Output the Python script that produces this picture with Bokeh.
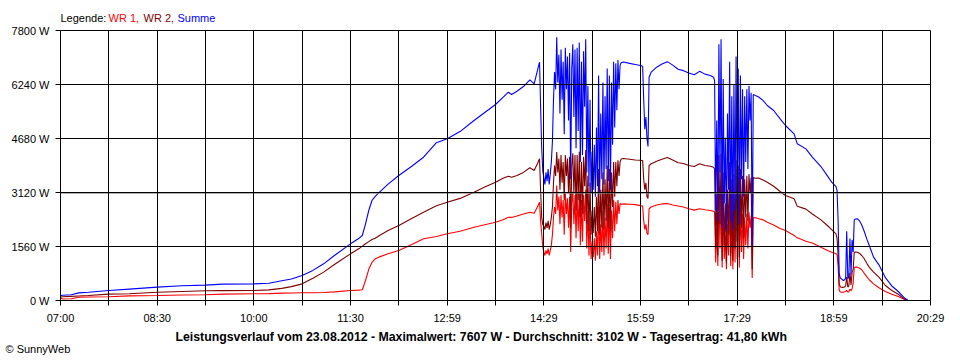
from bokeh.plotting import figure
from bokeh.layouts import column
from bokeh.models import Range1d, FixedTicker, Label, Span, Title
from bokeh.embed import file_html
from bokeh.resources import INLINE

# ---------------- data ----------------
TIME = [
    "07:00", "07:02", "07:10", "07:17", "07:26", "07:45", "08:04", "08:30", "08:53", "09:15",
    "09:31", "10:00", "10:14", "10:26", "10:35", "10:45", "10:55", "11:05", "11:15", "11:30",
    "11:38", "11:41", "11:44", "11:47", "11:50", "11:53", "11:57", "12:05", "12:15", "12:27",
    "12:38", "12:50", "13:00", "13:12", "13:25", "13:35", "13:45", "13:52", "13:57", "14:00",
    "14:05", "14:11", "14:17", "14:21", "14:24", "14:26", "14:27", "14:28",
    # cloudy period 1
    "14:29", "14:30", "14:31", "14:32", "14:33", "14:34", "14:35", "14:36", "14:37", "14:38",
    "14:39", "14:40", "14:41", "14:42", "14:43", "14:44", "14:45", "14:46", "14:47", "14:48",
    "14:49", "14:50", "14:51", "14:52", "14:53", "14:54", "14:55", "14:56", "14:57", "14:58",
    "14:59", "15:00", "15:01", "15:02", "15:03", "15:04", "15:05", "15:06", "15:07", "15:08",
    "15:09", "15:10", "15:11", "15:12", "15:13", "15:14", "15:15", "15:16", "15:17", "15:18",
    "15:19", "15:20", "15:21", "15:22", "15:23", "15:24", "15:25", "15:26", "15:27", "15:28",
    "15:29", "15:30", "15:31", "15:32", "15:33", "15:34", "15:35", "15:36", "15:37", "15:38",
    "15:39", "15:40", "15:41", "15:42",
    # afternoon
    "15:44", "15:50", "15:55", "16:00", "16:02", "16:03", "16:04", "16:05", "16:06", "16:07",
    "16:08", "16:10", "16:15", "16:20", "16:25", "16:30", "16:35", "16:40", "16:45", "16:50",
    "16:55", "17:00", "17:05", "17:08",
    # cloudy period 2
    "17:09", "17:10", "17:11", "17:12", "17:13", "17:14", "17:15", "17:16", "17:17", "17:18",
    "17:19", "17:20", "17:21", "17:22", "17:23", "17:24", "17:25", "17:26", "17:27", "17:28",
    "17:29", "17:30", "17:31", "17:32", "17:33", "17:34", "17:35", "17:36", "17:37", "17:38",
    "17:39", "17:40", "17:41", "17:42", "17:43", "17:44", "17:45",
    # evening
    "17:47", "17:50", "17:54", "17:58", "18:04", "18:10", "18:15", "18:23", "18:26", "18:34",
    "18:40", "18:48", "18:54", "18:58", "19:02", "19:03", "19:04", "19:05", "19:06", "19:07",
    "19:08", "19:09", "19:10", "19:11", "19:12", "19:13", "19:14", "19:15", "19:16", "19:17",
    "19:18", "19:19", "19:20", "19:22", "19:24", "19:26", "19:28", "19:31", "19:33", "19:37",
    "19:42", "19:48", "19:54", "20:00", "20:05", "20:09",
]

WR1 = [
    75, 45, 50, 95, 100, 110, 135, 144, 160, 164,
    183, 193, 200, 212, 218, 222, 226, 232, 250, 289,
    300, 310, 578, 900, 1100, 1204, 1260, 1350, 1444, 1620,
    1782, 1850, 1926, 2000, 2118, 2190, 2263, 2330, 2407, 2400,
    2440, 2500, 2552, 2520, 2700, 2841, 2300, 1940,
    1550, 1400, 1300, 1450, 1350, 1500, 1300, 1450, 1600, 1900,
    2400, 2700, 2500, 3320, 2600, 3000, 2200, 3050, 2400, 2900,
    1900, 3100, 2500, 2950, 2100, 3000, 1400, 2800, 3150, 2200,
    3050, 1800, 3100, 2000, 3150, 1600, 2900, 1700, 3050, 2300,
    3200, 1500, 2600, 1300, 2400, 1200, 1700, 1250, 1800, 1150,
    2000, 1300, 2700, 1200, 2200, 1400, 2600, 1300, 2400, 1500,
    2800, 1350, 2700, 1200, 2600, 1800, 2900, 2000, 2850, 2200,
    2900, 2500, 2800, 2780,
    2790, 2780, 2770, 2740, 2730, 2300, 2050, 2200, 1950, 1900,
    2650, 2700, 2760, 2790, 2800, 2760, 2730, 2700, 2650, 2610,
    2650, 2620, 2600, 2580,
    2550, 1100, 2100, 1000, 3200, 1500, 3300, 950, 2700, 1200,
    1900, 900, 2200, 1300, 2900, 1000, 2400, 900, 2600, 1100,
    3000, 1200, 2800, 950, 2700, 1400, 2500, 1200, 2400, 1600,
    2500, 1500, 2550, 2100, 2450, 650, 2400,
    2390, 2360, 2330, 2263, 2180, 2080, 2022, 1880, 1810, 1710,
    1660, 1541, 1444, 1396, 1348, 1330, 1000, 290, 250, 240,
    240, 240, 250, 260, 290, 245, 250, 330, 280, 340,
    500, 960, 965, 963, 930, 890, 800, 674, 600, 481,
    370, 260, 180, 115, 40, 0,
]

WR2 = [
    95, 110, 120, 130, 144, 183, 193, 240, 260, 280,
    285, 289, 308, 350, 400, 481, 640, 820, 1040, 1348,
    1500, 1570, 1640, 1700, 1760, 1800, 1880, 2020, 2167, 2370,
    2552, 2740, 2841, 2950, 3130, 3280, 3419, 3530, 3592, 3560,
    3611, 3700, 3833, 3756, 3950, 4093, 3180, 2410,
    2200, 2150, 2050, 2250, 2100, 2300, 2050, 2200, 2400, 2700,
    3400, 3900, 3600, 4287, 3700, 4100, 3200, 4200, 3400, 4000,
    2900, 4200, 3600, 4100, 3100, 4150, 2100, 3900, 4250, 3100,
    4200, 2600, 4200, 2900, 4300, 2400, 4000, 2500, 4150, 3300,
    4350, 2200, 3600, 2000, 3400, 1900, 2600, 1950, 2700, 1850,
    3000, 2000, 3800, 1900, 3200, 2100, 3700, 2050, 3500, 2300,
    3900, 2100, 3800, 2000, 3700, 2700, 4000, 3000, 4000, 3300,
    4050, 3600, 4000, 4090,
    4100, 4080, 4060, 4050, 4040, 3500, 3200, 3400, 3000, 2950,
    3900, 3950, 4020, 4080, 4130, 4060, 3980, 3960, 3900, 3870,
    3950, 3900, 3880, 3850,
    3800, 1500, 3100, 1300, 4200, 2200, 4250, 1150, 3700, 1600,
    2800, 1100, 3200, 1900, 4000, 1300, 3500, 1150, 3650, 1500,
    4050, 1700, 3900, 1250, 3800, 2100, 3600, 1800, 3500, 2400,
    3600, 2300, 3650, 3100, 3550, 900, 3550,
    3530, 3540, 3480, 3418, 3300, 3150, 3033, 2937, 2720, 2640,
    2500, 2330, 2167, 2050, 1926, 1800, 1300, 480, 400, 385,
    380, 385, 390, 420, 680, 390, 420, 800, 450, 820,
    900, 1390, 1400, 1396, 1360, 1300, 1220, 1059, 960, 818,
    674, 433, 289, 180, 60, 0,
]

SUMME = [
    140, 150, 165, 220, 240, 290, 330, 385, 424, 443,
    472, 481, 500, 570, 620, 722, 870, 1059, 1300, 1637,
    1800, 1878, 2215, 2600, 2889, 3010, 3130, 3360, 3611, 3880,
    4140, 4560, 4670, 4880, 5200, 5430, 5662, 5870, 6018, 5951,
    6047, 6182, 6375, 6259, 6644, 6885, 5600, 4430,
    3750, 3550, 3350, 3700, 3450, 3800, 3350, 3650, 4000, 4600,
    5800, 6600, 6100, 7607, 6300, 7100, 5400, 7250, 5800, 6900,
    4800, 7300, 6100, 7050, 5200, 7150, 3500, 6700, 7400, 5300,
    7250, 4400, 7300, 4900, 7450, 4000, 6900, 4200, 7200, 5600,
    7550, 3700, 6200, 3300, 5800, 3100, 4300, 3200, 4500, 3000,
    5000, 3300, 6500, 3100, 5400, 3500, 6300, 3350, 5900, 3800,
    6700, 3450, 6500, 3200, 6300, 4500, 6900, 5000, 6850, 5500,
    6950, 6100, 6800, 6870,
    6890, 6850, 6820, 6790, 6770, 5800, 4950, 5300, 4700, 4450,
    6450, 6600, 6740, 6830, 6900, 6800, 6680, 6640, 6570, 6520,
    6620, 6540, 6500, 6450,
    6350, 2600, 5200, 2300, 7400, 3700, 7550, 2100, 6400, 2800,
    4700, 2000, 5400, 3200, 6900, 2300, 5900, 2050, 6250, 2600,
    7050, 2900, 6700, 2200, 6500, 3500, 6100, 3000, 5900, 4000,
    6100, 3800, 6200, 5200, 6000, 1550, 5950,
    5920, 5880, 5780, 5633, 5490, 5248, 5056, 4815, 4526, 4380,
    4141, 3870, 3600, 3420, 3290, 3180, 2300, 770, 650, 626,
    600, 580, 600, 640, 2000, 620, 700, 1790, 750, 1750,
    1400, 2330, 2350, 2360, 2300, 2180, 2022, 1750, 1589, 1252,
    1030, 660, 420, 260, 96, 0,
]

assert len(TIME) == len(WR1) == len(WR2) == len(SUMME)

X_TICKS = ["07:00", "07:45", "08:30", "09:15", "10:00", "10:45", "11:30", "12:15",
           "13:00", "13:45", "14:30", "15:15", "16:00", "16:45", "17:30", "18:15",
           "19:00", "19:45", "20:30"]
X_TICK_LABELS = {"07:00": "07:00", "08:30": "08:30", "10:00": "10:00", "11:30": "11:30",
                 "13:00": "12:59", "14:30": "14:29", "16:00": "15:59", "17:30": "17:29",
                 "19:00": "18:59", "20:30": "20:29"}
Y_TICKS = [0, 1560, 3120, 4680, 6240, 7800]
AVERAGE_W = 3102
MAX_W = 7607
DATE = "23.08.2012"
ENERGY = "41,80 kWh"

SERIES = [("WR 1", WR1, "#FF0000"), ("WR 2", WR2, "#800000"), ("Summe", SUMME, "#0000FF")]


def to_min(s):
    h, m = s.split(":")
    return int(h) * 60 + int(m)


FONT = "Liberation Sans"
W = 960
LEFT, RIGHT = 60, 30

# ---------------- legend strip (frame aligned with the chart frame) ----------------
top = figure(width=W, height=24, output_backend="svg", toolbar_location=None,
             x_axis_type=None, y_axis_type=None, x_range=Range1d(0, 1), y_range=Range1d(0, 1),
             min_border_left=LEFT, min_border_right=RIGHT, min_border_top=0, min_border_bottom=0)
top.outline_line_color = None
top.grid.visible = False
top.background_fill_color = "white"
top.border_fill_color = "white"
legend_items = [("Legende:", "black", 0)] + [
    (n + ("," if i < len(SERIES) - 1 else ""), c, px)
    for i, ((n, v, c), px) in enumerate(zip(SERIES, [48, 83, 117]))]
for txt, col, px in legend_items:
    top.add_layout(Label(x=px, y=7, x_units="screen", y_units="screen", text=txt,
                         text_color=col, text_font=FONT, text_font_size="11px",
                         text_baseline="middle", text_align="left"))

# ---------------- main chart ----------------
x = [to_min(t) for t in TIME]
p = figure(width=W, height=336, output_backend="svg", toolbar_location=None,
           x_range=Range1d(to_min(X_TICKS[0]), to_min(X_TICKS[-1])),
           y_range=Range1d(Y_TICKS[0], Y_TICKS[-1]),
           min_border_left=LEFT, min_border_right=RIGHT, min_border_top=6, min_border_bottom=60)
p.background_fill_color = "white"
p.border_fill_color = "white"
p.outline_line_color = "black"
p.outline_line_width = 1

for name, vals, col in SERIES:
    p.line(x, vals, line_color=col, line_width=1.1)

p.add_layout(Span(location=AVERAGE_W, dimension="width", line_color="#808080", line_width=1))

p.xaxis.ticker = FixedTicker(ticks=[to_min(t) for t in X_TICKS])
p.xaxis.major_label_overrides = {to_min(t): X_TICK_LABELS.get(t, "") for t in X_TICKS}
p.yaxis.ticker = FixedTicker(ticks=Y_TICKS)
p.yaxis.major_label_overrides = {v: f"{v} W" for v in Y_TICKS}
for ax in (p.xaxis, p.yaxis):
    ax.axis_line_color = "black"
    ax.major_tick_line_color = "black"
    ax.major_tick_out = 5
    ax.major_tick_in = 0
    ax.minor_tick_line_color = None
    ax.major_label_text_font = FONT
    ax.major_label_text_font_size = "11px"
    ax.major_label_text_color = "black"
    ax.major_label_standoff = 6

p.grid.grid_line_color = "black"
p.grid.grid_line_alpha = 1
p.grid.grid_line_width = 1
p.grid.level = "overlay"

# ---------------- footer lines ----------------
footer = (f"Leistungsverlauf vom {DATE} - Maximalwert: {MAX_W} W - "
          f"Durchschnitt: {AVERAGE_W} W - Tagesertrag: {ENERGY}")
p.add_layout(Title(text=footer, align="left", offset=115, text_font=FONT,
                   text_font_size="12.3px", text_font_style="bold", text_color="black",
                   standoff=2), "below")
p.add_layout(Title(text="\u00a9 SunnyWeb", align="left", offset=-55, text_font=FONT,
                   text_font_size="11px", text_font_style="normal", text_color="black",
                   standoff=-7), "below")

open("out.html", "w").write(file_html(column(top, p, spacing=0), INLINE))
